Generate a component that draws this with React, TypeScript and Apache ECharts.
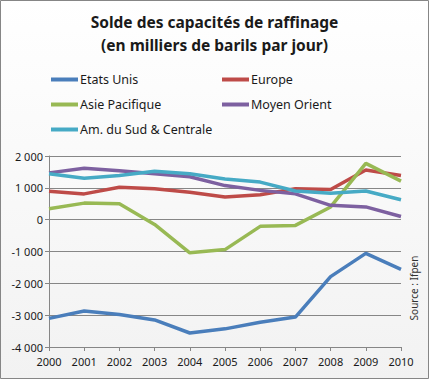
import React, { useEffect, useRef } from "react";
import * as echarts from "echarts";

const years = ["2000", "2001", "2002", "2003", "2004", "2005", "2006", "2007", "2008", "2009", "2010"];
const etatsUnis = [-3100, -2870, -2980, -3150, -3560, -3430, -3220, -3060, -1790, -1060, -1560];
const europe = [890, 810, 1020, 970, 860, 710, 780, 970, 950, 1560, 1385];
const asiePacifique = [345, 520, 500, -150, -1040, -940, -210, -180, 400, 1770, 1210];
const moyenOrient = [1470, 1615, 1540, 1440, 1350, 1070, 920, 810, 450, 400, 100];
const amSud = [1440, 1300, 1385, 1520, 1440, 1280, 1180, 900, 830, 900, 625];

const colors = ["#4a7ebb", "#be4b48", "#98b954", "#7d60a0", "#46aac5"];
const FONT = "Noto Sans";

const fmt = (v: number) => {
  const s = Math.abs(v).toString().replace(/\B(?=(\d{3})+(?!\d))/g, " ");
  return (v < 0 ? "-" : "") + s;
};

export default function App() {
  const ref = useRef<HTMLDivElement>(null);
  useEffect(() => {
    document.body.style.margin = "0";
    const chart = echarts.init(ref.current!, null, { renderer: "svg" });
    const mk = (name: string, data: number[], color: string) => ({
      name,
      type: "line",
      data,
      xAxisIndex: 0,
      symbol: "none",
      lineStyle: { width: 3.5, color },
      itemStyle: { color },
      z: 3,
    });
    const legendText = { fontFamily: FONT, fontSize: 12.5, color: "#1a1a1a", padding: [0, 0, 0, -3] };
    chart.setOption({
      animation: false,
      backgroundColor: {
        type: "linear", x: 0, y: 0, x2: 0, y2: 1,
        colorStops: [{ offset: 0, color: "#ffffff" }, { offset: 1, color: "#f2f2f2" }],
      },
      title: {
        text: "Solde des capacités de raffinage\n(en milliers de barils par jour)",
        left: "center",
        top: 5,
        textStyle: { fontFamily: FONT, fontSize: 15.5, fontWeight: "bold", color: "#1a1a1a", lineHeight: 23 },
      },
      legend: [
        {
          orient: "vertical", left: 46, top: 68, itemGap: 12, itemWidth: 27, itemHeight: 4, icon: "rect",
          data: ["Etats Unis", "Asie Pacifique", "Am. du Sud & Centrale"],
          textStyle: legendText,
        },
        {
          orient: "vertical", left: 217, top: 68, itemGap: 12, itemWidth: 27, itemHeight: 4, icon: "rect",
          data: ["Europe", "Moyen Orient"],
          textStyle: legendText,
        },
      ],
      grid: { left: 49, right: 28, top: 156, bottom: 32 },
      xAxis: [
        {
          type: "category", data: years, boundaryGap: false, position: "bottom",
          axisLine: { show: false }, axisTick: { show: false },
          axisLabel: { fontFamily: FONT, fontSize: 11, color: "#1a1a1a", margin: 9 },
        },
        {
          type: "category", data: years, boundaryGap: false, position: "bottom",
          axisLine: { show: true, onZero: true, lineStyle: { color: "#868686", width: 1 } },
          axisTick: { show: true, length: 4, lineStyle: { color: "#868686" } },
          axisLabel: { show: false },
        },
      ],
      yAxis: {
        type: "value", min: -4000, max: 2000, interval: 1000,
        axisLine: { show: true, lineStyle: { color: "#868686" } },
        axisTick: { show: true, length: 4, lineStyle: { color: "#868686" } },
        splitLine: { lineStyle: { color: "#868686", width: 1 } },
        axisLabel: { fontFamily: FONT, fontSize: 11, color: "#1a1a1a", margin: 6, formatter: fmt },
      },
      series: [
        mk("Etats Unis", etatsUnis, colors[0]),
        mk("Europe", europe, colors[1]),
        mk("Asie Pacifique", asiePacifique, colors[2]),
        mk("Moyen Orient", moyenOrient, colors[3]),
        mk("Am. du Sud & Centrale", amSud, colors[4]),
      ],
      graphic: [
        {
          type: "text", x: 414, y: 288, rotation: Math.PI / 2,
          style: { text: "Source : Ifpen", fontFamily: FONT, fontSize: 10, fill: "#333", align: "center", verticalAlign: "middle" },
        },
        {
          type: "rect", shape: { x: 0.5, y: 0.5, width: 428, height: 378 },
          style: { fill: "none", stroke: "#868686", lineWidth: 1 },
        },
      ],
    });
    return () => chart.dispose();
  }, []);
  return <div ref={ref} style={{ width: 429, height: 379 }} />;
}
